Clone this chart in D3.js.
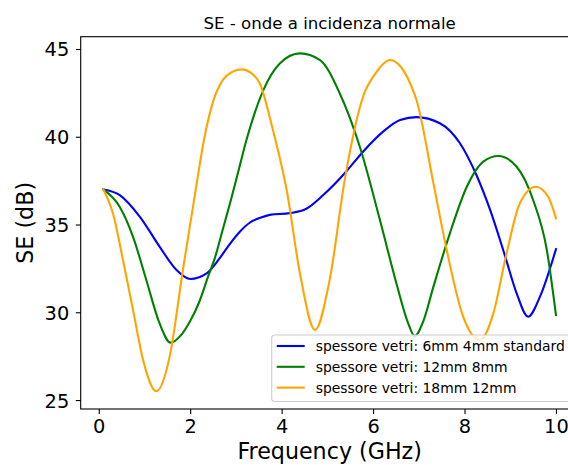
<!DOCTYPE html>
<html>
<head>
<meta charset="utf-8">
<script src="https://cdn.jsdelivr.net/npm/d3@7"></script>
<style>
  body { margin: 0; background: #fff; overflow: hidden; }
  text { font-family: "DejaVu Sans", sans-serif; fill: #000; }
</style>
</head>
<body>
<svg id="chart" width="568" height="465"></svg>
<script>
// frequencies (GHz) and SE values (dB)
const freqBlue = [0.1, 0.46, 0.9, 1.33, 1.7, 2.0, 2.36, 2.65, 2.87, 3.09, 3.3, 3.55, 3.74, 4.18, 4.54, 4.91, 5.38, 5.78, 6.22, 6.59, 6.95, 7.46, 7.9, 8.26, 8.56, 8.88, 9.14, 9.39, 9.65, 10.0];
const seBlue   = [37.0, 36.68, 35.44, 33.74, 32.41, 31.9, 32.22, 33.1, 33.9, 34.6, 35.1, 35.4, 35.55, 35.65, 35.9, 36.68, 37.92, 39.15, 40.29, 40.95, 41.12, 40.77, 39.63, 37.82, 35.83, 33.26, 31.08, 29.75, 30.89, 33.6];

const freqGreen = [0.1, 0.46, 0.75, 1.04, 1.33, 1.57, 1.8, 2.0, 2.2, 2.4, 2.54, 2.7, 2.87, 3.05, 3.23, 3.6, 3.96, 4.4, 4.84, 5.27, 5.71, 6.15, 6.51, 6.75, 6.91, 7.1, 7.32, 7.68, 8.05, 8.41, 8.74, 9.14, 9.5, 9.8, 10.0];
const seGreen   = [37.0, 36.0, 34.3, 31.84, 29.37, 28.27, 28.7, 29.5, 30.6, 32.1, 33.1, 34.6, 36.2, 38.0, 39.81, 42.66, 44.18, 44.75, 44.37, 42.48, 39.43, 35.26, 31.65, 29.5, 28.65, 29.5, 31.46, 34.5, 37.15, 38.58, 38.9, 38.29, 36.4, 33.55, 29.84];

const freqOrange = [0.1, 0.31, 0.53, 0.75, 0.97, 1.26, 1.55, 1.84, 2.14, 2.3, 2.5, 2.72, 2.92, 3.12, 3.35, 3.52, 3.81, 4.11, 4.4, 4.73, 5.05, 5.38, 5.78, 6.05, 6.37, 6.6, 6.81, 6.95, 7.32, 7.61, 7.97, 8.34, 8.63, 8.92, 9.21, 9.56, 9.83, 10.0];
const seOrange   = [37.0, 35.64, 32.98, 30.13, 27.28, 25.5, 27.47, 32.41, 37.3, 39.8, 42.0, 43.25, 43.7, 43.84, 43.6, 43.05, 40.38, 36.97, 32.22, 28.99, 31.84, 37.54, 42.28, 43.6, 44.37, 44.0, 43.05, 42.09, 37.35, 33.55, 29.75, 28.42, 29.94, 33.36, 36.21, 37.15, 36.58, 35.35];

const seriesNames  = ["spessore vetri: 6mm 4mm standard", "spessore vetri: 12mm 8mm", "spessore vetri: 18mm 12mm"];
const seriesColors = ["blue", "green", "orange"];
const xTicks = [0, 2, 4, 6, 8, 10];
const yTicks = [25, 30, 35, 40, 45];

const series = [
  { name: seriesNames[0], color: seriesColors[0], f: freqBlue, se: seBlue },
  { name: seriesNames[1], color: seriesColors[1], f: freqGreen, se: seGreen },
  { name: seriesNames[2], color: seriesColors[2], f: freqOrange, se: seOrange }
];

// axes box (right edge falls outside the image, like the cropped original)
const box = { left: 80.7, right: 578.6, top: 36.7, bottom: 409 };

const x = d3.scaleLinear().domain([-0.395, 10.495]).range([box.left, box.right]);
const y = d3.scaleLinear().domain([24.49, 45.70]).range([box.bottom, box.top]);

const svg = d3.select("#chart");

svg.append("clipPath").attr("id", "plot-clip")
  .append("rect").attr("x", box.left).attr("y", box.top)
  .attr("width", box.right - box.left).attr("height", box.bottom - box.top);

// lines
const line = d3.line()
  .x(d => x(d[0]))
  .y(d => y(d[1]))
  .curve(d3.curveMonotoneX);

const plot = svg.append("g").attr("clip-path", "url(#plot-clip)");
series.forEach(function(s) {
  plot.append("path")
    .datum(s.f.map((f, i) => [f, s.se[i]]))
    .attr("d", line)
    .attr("fill", "none")
    .attr("stroke", s.color)
    .attr("stroke-width", 2.1)
    .attr("stroke-linejoin", "round")
    .attr("stroke-linecap", "square");
});

// x axis
const xAxis = svg.append("g")
  .attr("transform", "translate(0," + box.bottom + ")")
  .call(d3.axisBottom(x).tickValues(xTicks).tickSize(4.9).tickPadding(4.9).tickFormat(d3.format("d")));
xAxis.select(".domain").remove();
xAxis.selectAll("line").attr("stroke", "#000").attr("stroke-width", 1.1);
xAxis.selectAll("text").attr("font-size", "19.4px").attr("dy", "0.74em")
  .style("font-family", "DejaVu Sans, sans-serif").attr("fill", "#000");

// y axis
const yAxis = svg.append("g")
  .attr("transform", "translate(" + box.left + ",0)")
  .call(d3.axisLeft(y).tickValues(yTicks).tickSize(4.9).tickPadding(6.5).tickFormat(d3.format("d")));
yAxis.select(".domain").remove();
yAxis.selectAll("line").attr("stroke", "#000").attr("stroke-width", 1.1);
yAxis.selectAll("text").attr("font-size", "19.4px").attr("dy", "0.36em")
  .style("font-family", "DejaVu Sans, sans-serif").attr("fill", "#000");

// spines
svg.append("rect")
  .attr("x", box.left).attr("y", box.top)
  .attr("width", box.right - box.left).attr("height", box.bottom - box.top)
  .attr("fill", "none").attr("stroke", "#000").attr("stroke-width", 1.1);

// title and axis labels
svg.append("text")
  .attr("x", (box.left + box.right) / 2).attr("y", 28.6)
  .attr("text-anchor", "middle").attr("font-size", "16.6px")
  .text("SE - onde a incidenza normale");

svg.append("text")
  .attr("x", (box.left + box.right) / 2).attr("y", 459)
  .attr("text-anchor", "middle").attr("font-size", "22.2px")
  .text("Frequency (GHz)");

svg.append("text")
  .attr("transform", "translate(33," + ((box.top + box.bottom) / 2) + ") rotate(-90)")
  .attr("text-anchor", "middle").attr("font-size", "22.2px")
  .text("SE (dB)");

// legend
const legend = svg.append("g").attr("transform", "translate(271.7,335)");
legend.append("rect")
  .attr("x", 0).attr("y", 0).attr("width", 310).attr("height", 66.5)
  .attr("rx", 3).attr("ry", 3)
  .attr("fill", "#fff").attr("fill-opacity", 0.8)
  .attr("stroke", "#ccc").attr("stroke-width", 1.1);

series.forEach(function(s, i) {
  const rowY = 11 + i * 20.8;
  legend.append("line")
    .attr("x1", 5).attr("x2", 33)
    .attr("y1", rowY).attr("y2", rowY)
    .attr("stroke", s.color).attr("stroke-width", 2.1);
  legend.append("text")
    .attr("x", 44).attr("y", rowY).attr("dy", "0.36em")
    .attr("font-size", "13.9px")
    .text(s.name);
});
</script>
</body>
</html>
